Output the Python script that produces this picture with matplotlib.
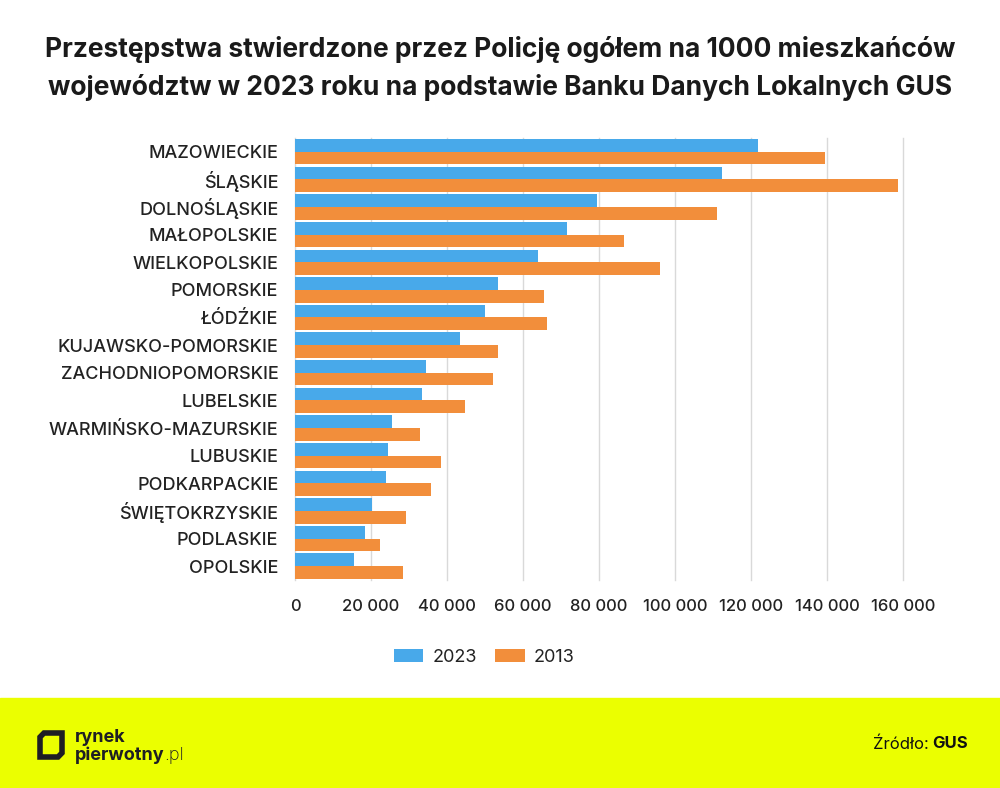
import numpy as np
import matplotlib.pyplot as plt
from matplotlib.patches import Rectangle, Polygon

regions = ['MAZOWIECKIE', 'ŚLĄSKIE', 'DOLNOŚLĄSKIE', 'MAŁOPOLSKIE', 'WIELKOPOLSKIE',
           'POMORSKIE', 'ŁÓDŹKIE', 'KUJAWSKO-POMORSKIE', 'ZACHODNIOPOMORSKIE',
           'LUBELSKIE', 'WARMIŃSKO-MAZURSKIE', 'LUBUSKIE', 'PODKARPACKIE',
           'ŚWIĘTOKRZYSKIE', 'PODLASKIE', 'OPOLSKIE']
v2023 = [121900, 112300, 79600, 71600, 64000, 53300, 49900, 43300, 34600,
         33300, 25400, 24600, 24000, 20200, 18400, 15600]
v2013 = [139500, 158700, 111100, 86600, 96100, 65600, 66400, 53300, 52000,
         44700, 33000, 38400, 35700, 29200, 22300, 28300]
ticks = [0, 20000, 40000, 60000, 80000, 100000, 120000, 140000, 160000]

title = ('Przestępstwa stwierdzone przez Policję ogółem na 1000 mieszkańców\n'
         'województw w 2023 roku na podstawie Banku Danych Lokalnych GUS')

plt.rcParams['font.family'] = ['Inter', 'DejaVu Sans']
blue = '#48A9EA'
orange = '#F28E3B'
txt = '#222222'

fig = plt.figure(figsize=(10, 7.88), dpi=100)
ax = fig.add_axes([0.295, 0.264, 0.608, 0.561])

y = np.arange(len(regions))
h = 0.46
ax.barh(y - h / 2, v2023, height=h, color=blue, label='2023', zorder=3)
ax.barh(y + h / 2, v2013, height=h, color=orange, label='2013', zorder=3)
ax.set_ylim(len(regions) - 0.5, -0.5)
ax.set_xlim(0, 160000)
ax.set_yticks(y)
ax.set_yticklabels(regions, fontsize=13, fontweight='medium', color=txt)
ax.set_xticks(ticks)
ax.set_xticklabels([f'{t:,}'.replace(',', ' ') for t in ticks], fontsize=12,
                   fontweight='medium', color=txt)
ax.tick_params(length=0, axis='y', pad=12)
ax.tick_params(length=0, axis='x', pad=14)
ax.grid(axis='x', color='#d9d9d9', linewidth=1, zorder=0, clip_on=False)
for s in ax.spines.values():
    s.set_visible(False)

ax.legend(loc='center', bbox_to_anchor=(0.311, -0.175), ncol=2, frameon=False,
          fontsize=13, handlelength=1.65, handleheight=0.65, columnspacing=1.0,
          handletextpad=0.5, labelcolor=txt)

fig.text(0.5, 0.913, title, ha='center', va='center', fontsize=19, fontweight='bold',
         color='#1a1a1a', linespacing=1.5)

# footer band
fig.patches.append(Rectangle((0, 0), 1, 90 / 788, transform=fig.transFigure,
                             color='#EBFF00', zorder=0))
# logo mark
x0, x1 = 0.040, 0.062
y0, y1 = 1 - 757 / 788, 1 - 733 / 788
c = 0.004
outer = Polygon([(x0, y0), (x1 - c, y0), (x1, y0 + c * 1.3), (x1, y1),
                 (x0 + c, y1), (x0, y1 - c * 1.3)],
                closed=True, transform=fig.transFigure, facecolor='none',
                edgecolor='#1e1e24', linewidth=4, joinstyle='miter')
fig.patches.append(outer)
fig.text(0.075, 1 - 738 / 788, 'rynek', fontsize=13, fontweight='bold', color='#1e1e24',
         va='center', ha='left')
t_pw = fig.text(0.075, 1 - 755 / 788, 'pierwotny', fontsize=13, fontweight='bold',
                color='#1e1e24', va='center', ha='left')

fig.canvas.draw()
r = fig.canvas.get_renderer()
bb = t_pw.get_window_extent(r)
fig.text(bb.x1 / 1000, 1 - 755 / 788, '.pl', fontsize=13, fontweight='light',
         color='#1e1e24', va='center', ha='left')

t_gus = fig.text(0.968, 1 - 744 / 788, 'GUS', fontsize=12, fontweight='bold',
                 color='#111111', ha='right', va='center')
fig.canvas.draw()
bb = t_gus.get_window_extent(r)
fig.text(bb.x0 / 1000 - 0.004, 1 - 744 / 788, 'Źródło:', fontsize=12, color='#111111',
         ha='right', va='center')

fig.savefig('out.png', dpi=100, facecolor='white')
